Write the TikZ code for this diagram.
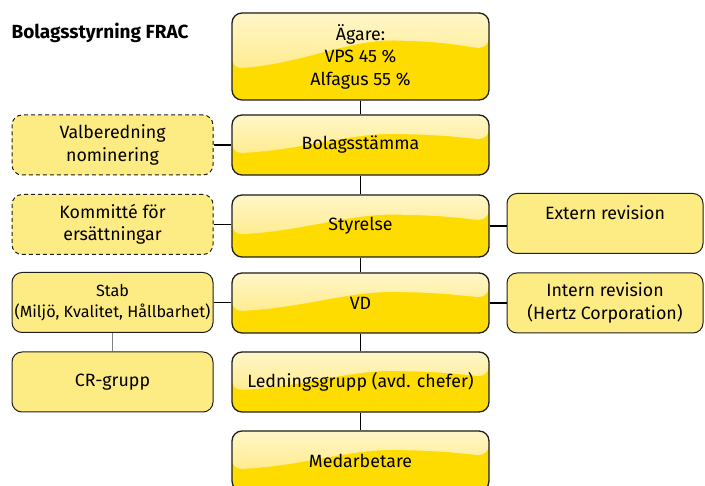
\documentclass[tikz,border=0pt]{standalone}
\usepackage{fontspec}
\setmainfont{Fira Sans}
\usetikzlibrary{calc}
\definecolor{goldy}{HTML}{FFDC00}
\definecolor{glosstop}{HTML}{FFF6C8}
\definecolor{glossbot}{HTML}{FFE670}
\definecolor{sidey}{HTML}{FDEB84}
\definecolor{edge}{HTML}{1E1E1E}
\tikzset{
  boxtext/.style={font=\fontsize{17.8}{22.5}\selectfont, text=black, align=center},
  glossbox/.style={boxtext, rounded corners=10pt, draw=edge, line width=1.3pt, fill=goldy,
    minimum width=257pt, minimum height=60pt, inner sep=0pt,
    path picture={
      \shade[top color=glosstop, bottom color=glossbot]
        let \p1=(path picture bounding box.north west), \p2=(path picture bounding box.south east) in
        (\p1) -- (\x1,{\y1+0.64*(\y2-\y1)})
        .. controls ({\x1+0.28*(\x2-\x1)},{\y1+0.58*(\y2-\y1)}) and ({\x1+0.45*(\x2-\x1)},{\y1+0.30*(\y2-\y1)}) ..
        ({\x1+0.68*(\x2-\x1)},{\y1+0.32*(\y2-\y1)})
        .. controls ({\x1+0.85*(\x2-\x1)},{\y1+0.34*(\y2-\y1)}) and ({\x1+0.94*(\x2-\x1)},{\y1+0.40*(\y2-\y1)}) ..
        (\x2,{\y1+0.40*(\y2-\y1)}) -- (\x2,\y1) -- cycle;
    }},
  sidebox/.style={boxtext, rounded corners=10pt, draw=edge, line width=1pt, fill=sidey,
    minimum height=60pt, inner sep=0pt},
  leftbox/.style={sidebox, minimum width=201pt},
  rightbox/.style={sidebox, minimum width=196pt},
  dashbox/.style={leftbox, dashed, dash pattern=on 4pt off 3pt},
  link/.style={draw=black, line width=1.5pt},
  thinlink/.style={draw=gray, line width=1pt},
}
\begin{document}
\begin{tikzpicture}[x=1pt,y=-1pt]
\useasboundingbox (0,0) rectangle (705,486);
\clip (0,0) rectangle (705,486);
\fill[white] (0,0) rectangle (705,486);

\node[anchor=west, font=\fontsize{19}{22}\selectfont\bfseries] (title) at (8,33) {Bolagsstyrning FRAC};

% central column
\node[glossbox, minimum height=87pt] (agare) at (360.5,56.5) {Ägare:\\VPS 45 \%\\Alfagus 55 \%};
\node[glossbox] (bolag) at (360.5,145) {Bolagsstämma};
\node[glossbox, minimum height=62pt] (styr) at (360.5,226) {Styrelse};
\node[glossbox] (vd) at (360.5,303) {VD};
\node[glossbox] (led) at (360.5,382) {Ledningsgrupp (avd. chefer)};
\node[glossbox] (med) at (360.5,461) {Medarbetare};

% left column
\node[dashbox] (valb) at (112.5,145) {Valberedning\\nominering};
\node[dashbox] (komm) at (112.5,224.5) {Kommitté för\\ersättningar};
\node[leftbox, font=\fontsize{16.2}{21.5}\selectfont] (stab) at (112.5,302.5) {Stab\\(Miljö, Kvalitet, Hållbarhet)};
\node[leftbox] (cr) at (112.5,382) {CR-grupp};

% right column
\node[rightbox] (ext) at (605,223.5) {Extern revision\\\phantom{X}};
\node[rightbox] (int) at (605,303) {Intern revision\\(Hertz Corporation)};

% connectors
\draw[link] (agare.south) -- (bolag.north);
\draw[link] (bolag.south) -- (styr.north);
\draw[link] (styr.south) -- (vd.north);
\draw[link] (vd.south) -- (led.north);
\draw[link] (led.south) -- (med.north);
\draw[link] (valb.east) -- (valb.east -| bolag.west);
\draw[link] (komm.east) -- (komm.east -| styr.west);
\draw[link] (stab.east) -- (stab.east -| vd.west);
\draw[link] (styr.east) -- (styr.east -| ext.west);
\draw[link] (vd.east) -- (vd.east -| int.west);
\draw[thinlink] (stab.south) -- (cr.north);
\end{tikzpicture}
\end{document}
